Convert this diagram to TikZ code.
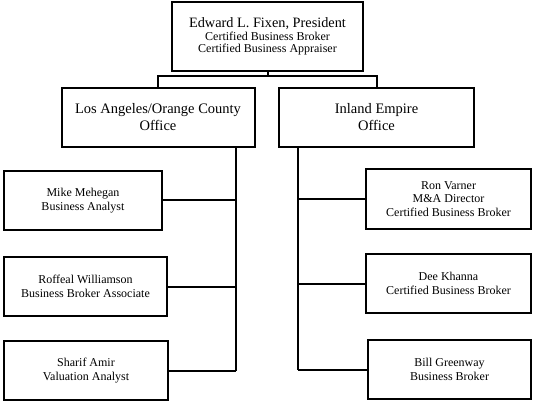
\documentclass[tikz,border=0pt]{standalone}
\usepackage{fontspec}
\setmainfont{Liberation Serif}
\usetikzlibrary{positioning}

\begin{document}
\begin{tikzpicture}[
  x=1pt, y=1pt,
  unit/.style={draw=black, line width=2pt, fill=white, align=center,
    inner sep=2pt, font=\fontsize{14.5}{17}\selectfont},
  head/.style={unit, minimum width=191pt, minimum height=69pt,
    font=\fontsize{12}{12.3}\selectfont},
  office/.style={unit, minimum width=193pt, minimum height=59pt},
  person/.style={unit, minimum height=59pt, font=\fontsize{12}{14}\selectfont},
  link/.style={draw=black, line width=2pt}
]
  \useasboundingbox (0,0) rectangle (535,-403);

  % the president
  \node[head] (pres) at (267.5,-36.5)
    {{\fontsize{14.3}{13}\selectfont Edward L. Fixen, President}\\
     Certified Business Broker\\
     Certified Business Appraiser};

  % the two offices
  \node[office] (la) at (158,-117.5) {Los Angeles/Orange County\\Office};
  \node[office, minimum width=195pt] (ie) at (376.5,-117.5) {Inland Empire\\Office};

  % staff of the LA/OC office
  \node[person, minimum width=158pt, anchor=west] (mike) at (3,-200.5)
    {Mike Mehegan\\Business Analyst};
  \node[person, minimum width=163pt, anchor=west] (roffeal) at (3,-286.5)
    {Roffeal Williamson\\Business Broker Associate};
  \node[person, minimum width=164pt, anchor=west] (sharif) at (3,-370.5)
    {Sharif Amir\\Valuation Analyst};

  % staff of the Inland Empire office
  \node[person, minimum width=165pt, minimum height=60pt, anchor=east,
    font=\fontsize{12}{13.5}\selectfont] (ron) at (532,-199)
    {Ron Varner\\M\&A Director\\Certified Business Broker};
  \node[person, minimum width=165pt, anchor=east] (dee) at (532,-283.5)
    {Dee Khanna\\Certified Business Broker};
  \node[person, minimum width=163pt, anchor=east] (bill) at (532,-369.5)
    {Bill Greenway\\Business Broker};

  % bus under the president
  \coordinate (bus) at (267.5,-76);
  \draw[link] (pres.south) -- (bus);
  \draw[link] (la.north) |- (bus) -| (ie.north);

  % spines down each side
  \coordinate (lspine) at (236,-371);
  \coordinate (rspine) at (298,-370);
  \draw[link] (lspine |- la.south) -- (lspine);
  \draw[link] (rspine |- ie.south) -- (rspine);

  \draw[link] (mike.east) -- (mike.east -| lspine);
  \draw[link] (roffeal.east) -- (roffeal.east -| lspine);
  \draw[link] (sharif.east) -- (sharif.east -| lspine);
  \draw[link] (ron.west) -- (ron.west -| rspine);
  \draw[link] (dee.west) -- (dee.west -| rspine);
  \draw[link] (bill.west) -- (bill.west -| rspine);
\end{tikzpicture}
\end{document}
